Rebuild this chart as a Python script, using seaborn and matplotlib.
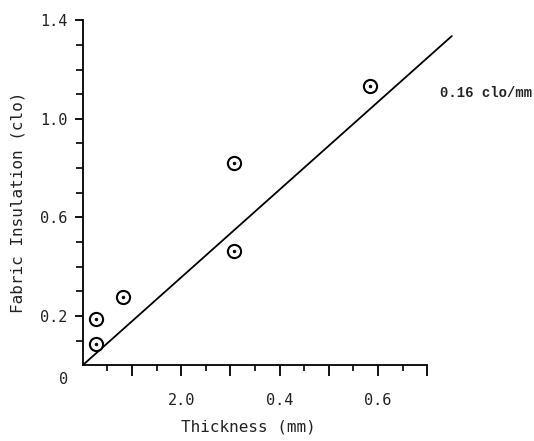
import matplotlib
matplotlib.use("Agg")
import matplotlib.pyplot as plt
import seaborn as sns
import pandas as pd

# measured points (thickness in mm, insulation in clo)
thickness = [0.027, 0.027, 0.081, 0.308, 0.308, 0.584]
insulation = [0.187, 0.085, 0.277, 0.821, 0.464, 1.132]

# fitted line end points
fit_x = [0.0, 0.75]
fit_y = [0.0, 1.336]

x_major = [0.1, 0.2, 0.3, 0.4, 0.5, 0.6, 0.7]
x_labels = ['', '2.0', '', '0.4', '', '0.6', '']
x_minor = [0.05, 0.15, 0.25, 0.35, 0.45, 0.55, 0.65]
y_major = [0.2, 0.6, 1.0, 1.4]
y_labels = ['0.2', '0.6', '1.0', '1.4']
y_minor = [0.1, 0.3, 0.4, 0.5, 0.7, 0.8, 0.9, 1.1, 1.2, 1.3]

sns.set_style("ticks")
plt.rcParams['font.family'] = ['DejaVu Sans Mono']

fig = plt.figure(figsize=(5.34, 4.41), dpi=100)
ax = fig.add_axes([0.155, 0.172, 0.645, 0.782])

df = pd.DataFrame({'thickness': thickness, 'insulation': insulation})

sns.lineplot(x=fit_x, y=fit_y, ax=ax, color='black', lw=1.3, clip_on=False, zorder=2)
sns.scatterplot(data=df, x='thickness', y='insulation', ax=ax, s=90,
                color='white', edgecolor='black', linewidth=1.5, zorder=3)
sns.scatterplot(data=df, x='thickness', y='insulation', ax=ax, s=4,
                color='black', edgecolor='black', linewidth=0.5, zorder=4)

ax.set_xlim(0, 0.7)
ax.set_ylim(0, 1.4)
ax.set_xticks(x_major, x_labels)
ax.set_xticks(x_minor, minor=True)
ax.set_yticks(y_major, y_labels)
ax.set_yticks(y_minor, minor=True)

ax.tick_params(axis='x', which='major', length=8, width=1.3, pad=12,
               labelsize=11, color='black', labelcolor='#222222')
ax.tick_params(axis='x', which='minor', length=4, width=1.2, color='black')
ax.tick_params(axis='y', which='major', length=6, width=1.3, pad=5,
               labelsize=11, color='black', labelcolor='#222222')
ax.tick_params(axis='y', which='minor', length=5, width=1.2, color='black')

for side in ['left', 'bottom']:
    ax.spines[side].set_linewidth(1.3)
    ax.spines[side].set_color('black')
sns.despine(ax=ax)

ax.text(-0.04, -0.057, '0', ha='center', va='center', fontsize=11, color='#222222')
ax.text(0.726, 1.104, '0.16 clo/mm', ha='left', va='center', fontsize=10,
        family='Liberation Mono', fontweight='bold', color='#222222')

ax.set_xlabel('Thickness (mm)', fontsize=11.5, color='#222222')
ax.xaxis.set_label_coords(0.48, -0.158)
ax.set_ylabel('Fabric Insulation (clo)', fontsize=11.5, color='#222222')
ax.yaxis.set_label_coords(-0.165, 0.472)

fig.savefig('out.png', dpi=100, facecolor='white')
